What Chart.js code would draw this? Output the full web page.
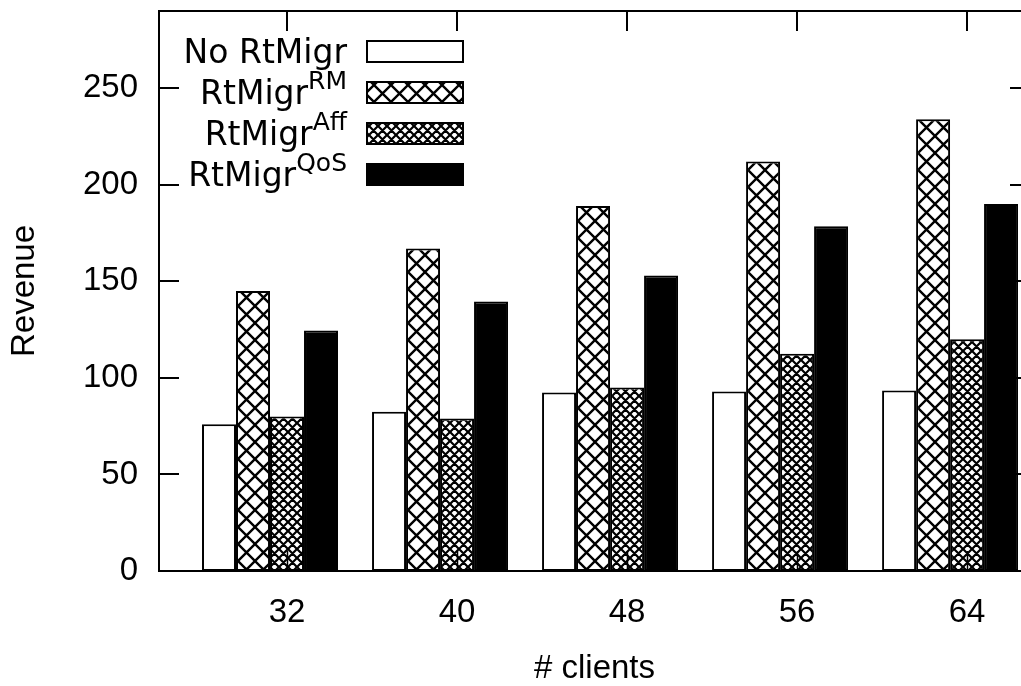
<!DOCTYPE html>
<html>
<head>
<meta charset="utf-8">
<script src="https://cdn.jsdelivr.net/npm/chart.js@4.4.1/dist/chart.umd.min.js"></script>
<style>
  html, body { margin: 0; padding: 0; background: #fff; overflow: hidden; }
  canvas { display: block; }
</style>
</head>
<body>
<canvas id="chart" width="1060" height="686"></canvas>
<script>
// revenue per number of clients, one array per migration strategy
const clients = ['32', '40', '48', '56', '64'];
const seriesNames = ['No RtMigr', 'RtMigr', 'RtMigr', 'RtMigr'];
const seriesSup = ['', 'RM', 'Aff', 'QoS'];
const noRtMigr = [76, 82.5, 92.5, 93, 93.5];
const rtMigrRM = [145, 167, 189, 212, 234];
const rtMigrAff = [80, 79, 95, 112.5, 120];
const rtMigrQoS = [124.5, 139.5, 153, 178.5, 190];
const yTicks = [0, 50, 100, 150, 200, 250];

const canvas = document.getElementById('chart');
const ctx = canvas.getContext('2d');

// diagonal crosshatch fill, size = cell period in px
function hatch(size, lw) {
  const tile = document.createElement('canvas');
  tile.width = tile.height = size;
  const g = tile.getContext('2d');
  g.fillStyle = '#fff';
  g.fillRect(0, 0, size, size);
  g.strokeStyle = '#000';
  g.lineWidth = lw;
  g.beginPath();
  for (let k = -1; k <= 1; k++) {
    g.moveTo(k * size, 0); g.lineTo(k * size + size, size);
    g.moveTo(k * size + size, 0); g.lineTo(k * size, size);
  }
  g.stroke();
  return ctx.createPattern(tile, 'repeat');
}

const fills = ['#ffffff', hatch(17, 2.4), hatch(9, 2.2), '#000000'];
const seriesData = [noRtMigr, rtMigrRM, rtMigrAff, rtMigrQoS];

const tickFont = { family: '"Liberation Sans", Arial, sans-serif', size: 33 };

// gnuplot-like frame, inward tick marks and the keyed legend
const framePlugin = {
  id: 'frame',
  afterDatasetsDraw(chart) {
    const { ctx, chartArea: a, scales } = chart;
    ctx.save();
    ctx.strokeStyle = '#000';
    ctx.lineWidth = 2;
    ctx.strokeRect(a.left, a.top, a.right - a.left, a.bottom - a.top);
    ctx.beginPath();
    yTicks.forEach(v => {
      const y = Math.round(scales.y.getPixelForValue(v));
      ctx.moveTo(a.left, y); ctx.lineTo(a.left + 20, y);
      ctx.moveTo(a.right, y); ctx.lineTo(a.right - 20, y);
    });
    clients.forEach((c, i) => {
      const x = Math.round(scales.xt.getPixelForValue(i));
      ctx.moveTo(x, a.top); ctx.lineTo(x, a.top + 20);
    });
    ctx.stroke();
    ctx.lineWidth = 1.5;
    ctx.beginPath();
    clients.forEach((c, i) => {
      const x = Math.round(scales.xt.getPixelForValue(i)) + 0.5;
      ctx.moveTo(x, a.bottom); ctx.lineTo(x, a.bottom - 20);
    });
    ctx.stroke();

    // legend: label right-aligned, sample box to the right
    const mainFont = '33px "DejaVu Sans", sans-serif';
    const supFont = '25px "DejaVu Sans", sans-serif';
    const textRight = 347;
    chart.data.datasets.forEach((ds, i) => {
      const top = 41 + i * 41;
      ctx.fillStyle = ds.backgroundColor;
      ctx.fillRect(367, top, 96, 21);
      ctx.strokeStyle = '#000';
      ctx.lineWidth = 2;
      ctx.strokeRect(367, top, 96, 21);
      ctx.fillStyle = '#000';
      ctx.textAlign = 'right';
      ctx.textBaseline = 'alphabetic';
      const base = top + 22;
      let right = textRight;
      if (seriesSup[i]) {
        ctx.font = supFont;
        ctx.fillText(seriesSup[i], right, base - 15);
        right -= ctx.measureText(seriesSup[i]).width;
      }
      ctx.font = mainFont;
      ctx.fillText(seriesNames[i], right, base);
    });
    ctx.restore();
  }
};

new Chart(ctx, {
  type: 'bar',
  data: {
    datasets: seriesData.map((vals, i) => ({
      label: seriesNames[i] + seriesSup[i],
      data: vals.map((v, j) => ({ x: j, y: v })),
      backgroundColor: fills[i],
      borderColor: '#000',
      borderWidth: 2,
      borderSkipped: false,
      categoryPercentage: 0.8,
      barPercentage: 1.0,
      xAxisID: 'x',
      yAxisID: 'y'
    }))
  },
  options: {
    responsive: false,
    animation: false,
    layout: { padding: { top: 11, right: 30, left: 0, bottom: 0 } },
    plugins: { legend: { display: false }, tooltip: { enabled: false } },
    scales: {
      x: {
        type: 'linear', min: -0.653, max: 4.47, display: false, offset: false,
        afterBuildTicks: s => { s.ticks = clients.map((c, i) => ({ value: i })); }
      },
      xt: {
        type: 'linear', position: 'bottom', min: -0.753, max: 4.37, offset: false,
        grid: { display: false, drawTicks: false },
        border: { display: false },
        afterBuildTicks: s => { s.ticks = clients.map((c, i) => ({ value: i })); },
        ticks: {
          callback: v => clients[v], font: tickFont, color: '#000',
          padding: 22, maxRotation: 0, autoSkip: false
        },
        title: {
          display: true, text: '# clients', font: tickFont, color: '#000',
          padding: { top: 0, bottom: -3 }
        },
        afterFit: s => { s.height = 115; s.paddingLeft = 0; s.paddingRight = 0; }
      },
      y: {
        min: 0, max: 290,
        grid: { display: false, drawTicks: false },
        border: { display: false },
        afterBuildTicks: s => { s.ticks = yTicks.map(v => ({ value: v })); },
        ticks: { font: tickFont, color: '#000', padding: 21 },
        title: {
          display: true, text: 'Revenue', font: tickFont, color: '#000',
          padding: { top: 5, bottom: 0 }
        },
        afterFit: s => { s.width = 159; s.paddingTop = 0; s.paddingBottom = 0; }
      }
    }
  },
  plugins: [framePlugin]
});
</script>
</body>
</html>
